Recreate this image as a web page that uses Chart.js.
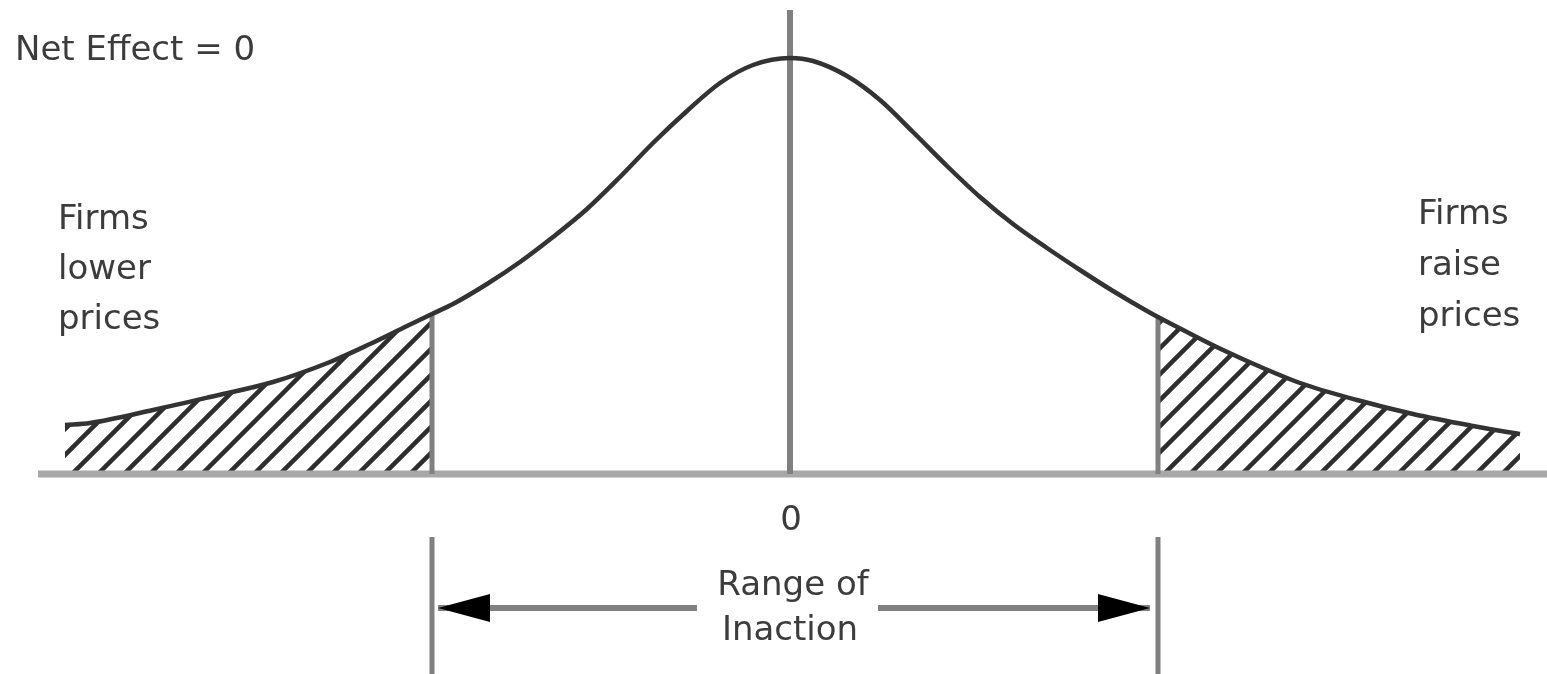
<!DOCTYPE html>
<html>
<head>
<meta charset="utf-8">
<script src="https://cdn.jsdelivr.net/npm/chart.js@4/dist/chart.umd.min.js"></script>
<style>
  html, body { margin: 0; padding: 0; background: #fff; }
  #wrap { width: 1547px; height: 674px; }
</style>
</head>
<body>
<div id="wrap"><canvas id="curveChart"></canvas></div>
<script>
// curve (x: price change, 0 = centre; y: density)
const curveX = [-7.25, -7.0, -6.37, -5.8, -5.17, -4.6, -4.2, -3.83, -3.58, -3.37, -3.03, -2.7, -2.37, -2.03,
  -1.7, -1.37, -1.03, -0.7, -0.37, 0, 0.23, 0.57, 0.9, 1.23, 1.57, 1.9, 2.23, 2.57, 2.9, 3.23, 3.57, 3.68,
  3.97, 4.33, 4.73, 5.1, 5.67, 6.23, 6.83, 7.17, 7.3];
const curveY = [0.49, 0.51, 0.64, 0.77, 0.92, 1.12, 1.30, 1.48, 1.60, 1.70, 1.90, 2.12, 2.37, 2.65,
  2.97, 3.31, 3.63, 3.91, 4.09, 4.16, 4.13, 3.98, 3.74, 3.42, 3.08, 2.77, 2.50, 2.26, 2.04, 1.83, 1.63, 1.57,
  1.42, 1.24, 1.06, 0.91, 0.74, 0.60, 0.48, 0.42, 0.40];

const cutLeft = -3.58;
const cutRight = 3.68;
const axisX = [-7.52, 7.57];
const centerTop = 4.64;
const rangeLineY = [-0.63, -2.0];
const arrowY = -1.34;
const arrowLeft = [-0.93, -3.52];   // tail, tip
const arrowRight = [0.88, 3.60];

const noteText = 'Net Effect = 0';
const leftLabel = ['Firms', 'lower', 'prices'];
const rightLabel = ['Firms', 'raise', 'prices'];
const zeroLabel = '0';
const rangeLabel = ['Range of', 'Inaction'];

const curvePts = curveX.map((x, i) => ({ x: x, y: curveY[i] }));
const leftTail = curvePts.filter(p => p.x <= cutLeft);
const rightTail = curvePts.filter(p => p.x >= cutRight);
const yAt = x => curveY[curveX.indexOf(x)];

// diagonal hatch
function hatch() {
  const s = 26;
  const c = document.createElement('canvas');
  c.width = s; c.height = s;
  const g = c.getContext('2d');
  g.strokeStyle = '#2e2e2e';
  g.lineWidth = 4.5;
  g.beginPath();
  g.moveTo(-4, s + 4); g.lineTo(s + 4, -4);
  g.moveTo(-4, 4); g.lineTo(4, -4);
  g.moveTo(s - 4, s + 4); g.lineTo(s + 4, s - 4);
  g.stroke();
  return g.createPattern(c, 'repeat');
}
const pattern = hatch();

const seg = (pts, color, width, extra) => Object.assign({
  data: pts, borderColor: color, borderWidth: width, pointRadius: 0, fill: false, tension: 0
}, extra || {});

const arrowHeads = {
  id: 'arrowHeads',
  afterDatasetsDraw(chart) {
    const ctx = chart.ctx;
    chart.data.datasets.forEach((ds, i) => {
      if (!ds.arrow) return;
      const pts = chart.getDatasetMeta(i).data;
      const tail = pts[0], tip = pts[pts.length - 1];
      const dir = Math.sign(tip.x - tail.x);
      ctx.save();
      ctx.fillStyle = '#000';
      ctx.beginPath();
      ctx.moveTo(tip.x, tip.y);
      ctx.lineTo(tip.x - dir * 52, tip.y - 14);
      ctx.lineTo(tip.x - dir * 52, tip.y + 14);
      ctx.closePath();
      ctx.fill();
      ctx.restore();
    });
  }
};

const textNotes = {
  id: 'textNotes',
  afterDraw(chart) {
    const ctx = chart.ctx;
    const xs = chart.scales.x, ys = chart.scales.y;
    const put = (t, x, y, align) => {
      ctx.textAlign = align;
      ctx.fillText(t, xs.getPixelForValue(x), ys.getPixelForValue(y));
    };
    ctx.save();
    ctx.font = '34px "DejaVu Sans"';
    ctx.fillStyle = '#3c3c3c';
    ctx.textBaseline = 'alphabetic';
    put(noteText, -7.75, 4.14, 'left');
    leftLabel.forEach((t, i) => put(t, -7.32, 2.45 - i * 0.5, 'left'));
    rightLabel.forEach((t, i) => put(t, 6.28, 2.50 - i * 0.51, 'left'));
    put(zeroLabel, 0.01, -0.56, 'center');
    put(rangeLabel[0], 0.03, -1.21, 'center');
    put(rangeLabel[1], 0.0, -1.66, 'center');
    ctx.restore();
  }
};

new Chart(document.getElementById('curveChart'), {
  type: 'line',
  data: {
    datasets: [
      seg(curvePts, '#333', 4.5, { cubicInterpolationMode: 'monotone' }),
      seg([{ x: cutLeft, y: 0 }, { x: cutLeft, y: yAt(cutLeft) }], '#808080', 5),
      seg([{ x: cutRight, y: 0 }, { x: cutRight, y: yAt(cutRight) }], '#808080', 5),
      seg([{ x: 0, y: 0 }, { x: 0, y: centerTop }], '#808080', 6),
      seg([{ x: axisX[0], y: 0 }, { x: axisX[1], y: 0 }], '#a8a8a8', 7),
      seg([{ x: cutLeft, y: rangeLineY[0] }, { x: cutLeft, y: rangeLineY[1] }], '#808080', 5),
      seg([{ x: cutRight, y: rangeLineY[0] }, { x: cutRight, y: rangeLineY[1] }], '#808080', 5),
      seg([{ x: arrowLeft[0], y: arrowY }, { x: arrowLeft[1], y: arrowY }], '#808080', 6, { arrow: true }),
      seg([{ x: arrowRight[0], y: arrowY }, { x: arrowRight[1], y: arrowY }], '#808080', 6, { arrow: true }),
      seg(leftTail, 'rgba(0,0,0,0)', 0, { fill: 'origin', backgroundColor: pattern, cubicInterpolationMode: 'monotone' }),
      seg(rightTail, 'rgba(0,0,0,0)', 0, { fill: 'origin', backgroundColor: pattern, cubicInterpolationMode: 'monotone' })
    ]
  },
  options: {
    responsive: true,
    maintainAspectRatio: false,
    animation: false,
    layout: { padding: 0 },
    scales: {
      x: { type: 'linear', min: -7.9, max: 7.57, display: false },
      y: { type: 'linear', min: -2.0, max: 4.74, display: false }
    },
    plugins: {
      legend: { display: false },
      tooltip: { enabled: false }
    }
  },
  plugins: [arrowHeads, textNotes]
});
</script>
</body>
</html>
